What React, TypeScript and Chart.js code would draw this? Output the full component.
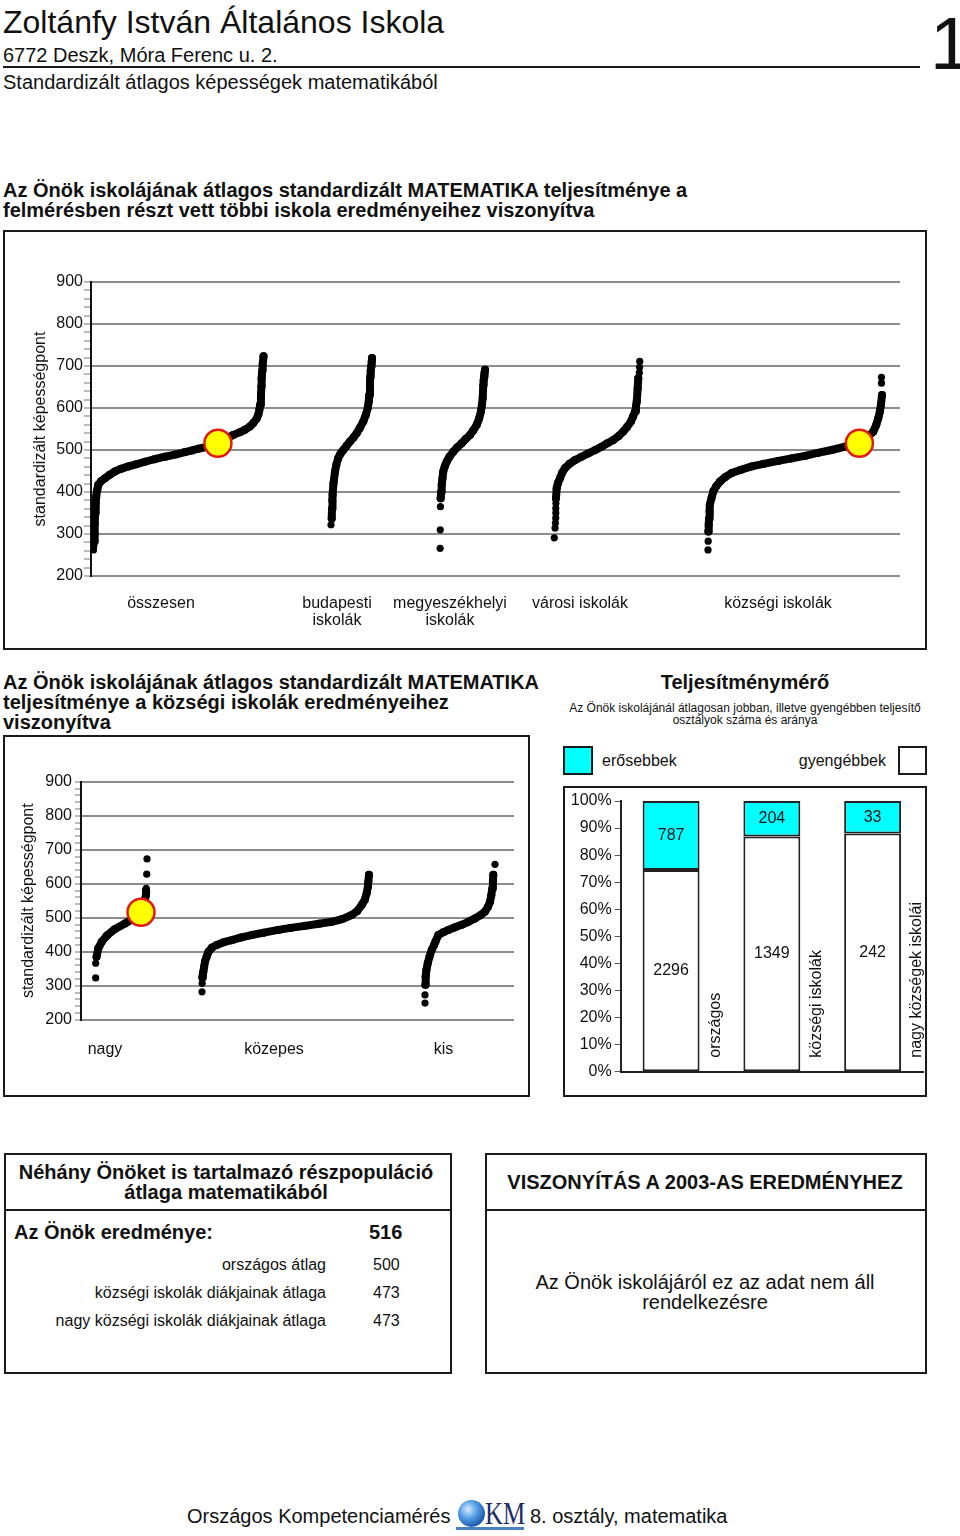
import React, { useEffect, useRef } from 'react';
import { Chart, registerables } from 'chart.js';

Chart.register(...registerables);

const FONT = '"Liberation Sans", Arial, Helvetica, sans-serif';
const INK = '#111111';
const GRID = '#8c8c8c';
Chart.defaults.font.family = FONT;

type Pair = [number, number]; // [rank within group (%), standardized score]

// ---------------- Chart 1: all schools ----------------
const groupLabels1: (string | string[])[] = [
  'összesen',
  ['budapesti', 'iskolák'],
  ['megyeszékhelyi', 'iskolák'],
  'városi iskolák',
  'községi iskolák',
];

const osszesenCurve: Pair[] = [
  [0.5, 282], [0.6, 300], [0.8, 325], [1.0, 350], [1.3, 372], [1.6, 390], [2.2, 405], [2.8, 417],
  [4.5, 426], [6.8, 433], [9.5, 441], [12.6, 449], [16, 455], [20.5, 461], [25, 466], [30.3, 472],
  [36, 478], [42, 484], [48, 489], [53.8, 495], [58, 499], [61.6, 503], [67.6, 508], [73.2, 516],
  [78, 527], [82.2, 536], [86, 542], [89, 548], [92, 556], [94, 564], [96, 575], [97, 585],
  [97.6, 596], [98, 608], [98.5, 631], [98.8, 652], [98.9, 671], [99.3, 690], [99.5, 703], [100, 723],
];
const osszesenDots: Pair[] = [[0, 262], [0.2, 272]];

const budapestiCurve: Pair[] = [
  [1.7, 337], [2.5, 360], [3.2, 380], [4.1, 393], [6, 420], [9.8, 449], [13, 465], [17.8, 481],
  [23, 491], [30, 500], [38, 510], [46.3, 520], [55, 530], [62.7, 540], [70, 552], [78.8, 568],
  [85, 584], [89.5, 600], [92, 615], [93.4, 631], [95.1, 663], [96, 675], [96.8, 687], [98, 700],
  [99.3, 710], [100, 719],
];
const budapestiDots: Pair[] = [[0, 322]];

const megyeCurve: Pair[] = [
  [1.5, 385], [2.5, 400], [3.8, 417], [5.5, 433], [7.3, 449], [10.5, 461], [14.9, 472], [21, 484],
  [29.6, 496], [38, 506], [48.2, 516], [57, 526], [66.7, 536], [74, 547], [81.6, 560], [87, 575],
  [91.1, 592], [93.2, 608], [94.9, 624], [96.2, 655], [97, 665], [97.8, 675], [99, 684], [100, 691],
];
const megyeDots: Pair[] = [[0.3, 266], [0.6, 310], [1, 365]];

const varosiCurve: Pair[] = [
  [2.3, 385], [3.1, 409], [4.5, 421], [7, 433], [9.5, 446], [12.8, 457], [18, 467], [24.4, 476],
  [32, 484], [39.9, 492], [48, 500], [55.5, 508], [62, 516], [69, 524], [75, 533], [80.6, 544],
  [85, 555], [89.5, 568], [92, 580], [94.2, 592], [95.3, 604], [96.2, 615], [97.3, 647], [98, 671],
];
const varosiDots: Pair[] = [
  [0.3, 291], [1.2, 314], [1.6, 326], [2, 338], [2.1, 350], [2.1, 361], [2.2, 373],
  [99.2, 684], [99.5, 697], [99.7, 711],
];

const kozsegiCurve: Pair[] = [
  [0.2, 306], [0.4, 322], [0.6, 337], [0.85, 353], [1.1, 369], [2, 385], [3, 401], [4.8, 414],
  [6.9, 425], [10, 436], [13.6, 445], [19, 453], [25.1, 461], [32, 467], [40.4, 474], [48, 480],
  [55.7, 486], [63, 493], [71.1, 500], [78.7, 508], [83, 512], [87, 518], [91, 528], [95, 544],
  [96.7, 560], [97.9, 576], [98.8, 592], [99.4, 608], [100, 631],
];
const kozsegiDots: Pair[] = [[0, 262], [0.1, 283], [99.7, 659], [99.7, 673]];

// ---------------- Chart 2: village schools ----------------
const groupLabels2: string[] = ['nagy', 'közepes', 'kis'];

const nagyCurve: Pair[] = [
  [3, 385], [6.4, 410], [12.9, 429], [22.5, 447], [38.5, 467], [57.7, 483], [70, 494], [80, 505],
  [88.5, 516], [93, 535], [96, 552], [98, 567], [98.2, 575], [98.2, 581],
];
const nagyDots: Pair[] = [[1.3, 323], [1.3, 366], [98.5, 586], [99.5, 628], [100, 673]];

const kozepesCurve: Pair[] = [
  [0.2, 324], [0.5, 333], [0.8, 341], [1.3, 356], [1.8, 371], [2.8, 386], [3.9, 400], [6, 412],
  [8.8, 420], [13, 428], [17.8, 434], [23.5, 442], [29.8, 449], [37, 456], [45.7, 464], [53, 470],
  [61.7, 476], [70, 482], [77.7, 488], [84, 496], [89.6, 508], [93, 520], [95.6, 537], [97.5, 553],
  [98.6, 572], [99.3, 590], [99.6, 606], [100, 626],
];
const kozepesDots: Pair[] = [[0, 282], [0.1, 307]];

const kisCurve: Pair[] = [
  [0.5, 303], [1, 328], [2, 346], [3.9, 366], [6.5, 386], [9.6, 405], [13, 420], [15, 430],
  [19, 449], [26, 457], [33.3, 464], [42, 471], [52.4, 479], [62, 488], [71.4, 498], [79, 507],
  [85.7, 518], [90, 532], [92.9, 547], [94.7, 566], [96.1, 586], [97, 606], [97.6, 626],
];
const kisDots: Pair[] = [[0, 249], [0, 273], [100, 657]];

// the school's own result and its rank inside the groups where it belongs
const schoolScore = 516;
const schoolRanks1: (number | null)[] = [73.2, null, null, null, 87];
const schoolRanks2: (number | null)[] = [88.5, null, null];

// ---------------- Teljesítménymérő ----------------
const meterCategories = ['országos', 'községi iskolák', 'nagy községek iskolái'];
const strongerCounts = [787, 204, 33];
const weakerCounts = [2296, 1349, 242];
const meterTicks = [0, 10, 20, 30, 40, 50, 60, 70, 80, 90, 100];

// ---------------- layout (positions of the group slots on the x scale) ----------------
type Slot = { start: number; width: number };
const slots1: Slot[] = [
  { start: 2.5, width: 170 }, { start: 240, width: 41 }, { start: 349, width: 45 },
  { start: 463, width: 86 }, { start: 617, width: 174 },
];
const labelPos1 = [70, 246, 359, 489, 687];
const slots2: Slot[] = [{ start: 14, width: 52 }, { start: 121, width: 167 }, { start: 344, width: 70 }];
const labelPos2 = [24, 193, 362.5];

const place = (pairs: Pair[], s: Slot) => pairs.map(([r, v]) => ({ x: s.start + (r / 100) * s.width, y: v }));

type ScoreOpts = {
  curves: Pair[][];
  dots: Pair[][];
  slots: Slot[];
  ranks: (number | null)[];
  labels: (string | string[])[];
  labelPos: number[];
  xMax: number;
  yWidth: number;
  xHeight: number;
  padTop: number;
  padRight: number;
  titlePad: number;
  tickLen: number;
  tickPad: number;
  labelPad: number;
};

function scoreConfig(o: ScoreOpts): any {
  const datasets: any[] = [];
  const schoolPts: { x: number; y: number }[] = [];
  o.ranks.forEach((r, i) => {
    if (r != null) schoolPts.push({ x: o.slots[i].start + (r / 100) * o.slots[i].width, y: schoolScore });
  });
  datasets.push({
    data: schoolPts,
    showLine: false,
    pointRadius: 13.5,
    pointBackgroundColor: '#ffff00',
    pointBorderColor: '#e3180f',
    pointBorderWidth: 2.5,
  });
  o.curves.forEach((c, i) => {
    datasets.push({
      data: place(c, o.slots[i]),
      showLine: true,
      borderColor: '#000',
      borderWidth: 8,
      borderCapStyle: 'round',
      borderJoinStyle: 'round',
      tension: 0,
      pointRadius: 4,
      pointBackgroundColor: '#000',
      pointBorderWidth: 0,
    });
    datasets.push({
      data: place(o.dots[i], o.slots[i]),
      showLine: false,
      pointRadius: 3.6,
      pointBackgroundColor: '#000',
      pointBorderWidth: 0,
    });
  });
  return {
    type: 'scatter',
    data: { datasets },
    options: {
      responsive: false,
      animation: false,
      devicePixelRatio: 1,
      events: [],
      layout: { padding: { top: o.padTop, right: o.padRight, left: 0, bottom: 0 }, autoPadding: false },
      plugins: { legend: { display: false }, tooltip: { enabled: false } },
      scales: {
        x: {
          type: 'linear',
          min: 0,
          max: o.xMax,
          grid: { display: false, drawTicks: false },
          border: { display: false },
          afterBuildTicks: (s: any) => {
            s.ticks = o.labelPos.map((v) => ({ value: v }));
          },
          ticks: {
            autoSkip: false,
            maxRotation: 0,
            minRotation: 0,
            padding: o.labelPad,
            color: INK,
            font: { size: 16, family: FONT, lineHeight: 1.05 },
            callback: (_v: any, i: number) => o.labels[i],
          },
          afterFit: (s: any) => {
            s.height = o.xHeight;
          },
        },
        y: {
          type: 'linear',
          min: 200,
          max: 900,
          ticks: {
            stepSize: 20,
            autoSkip: false,
            padding: o.tickPad,
            color: INK,
            font: { size: 16, family: FONT },
            callback: (v: any) => (Number(v) % 100 === 0 ? String(v) : ''),
          },
          grid: {
            color: (ctx: any) => (ctx.tick && ctx.tick.value % 100 === 0 ? GRID : 'rgba(0,0,0,0)'),
            lineWidth: 2,
            tickColor: '#777',
            tickLength: o.tickLen,
            tickWidth: 1,
          },
          border: { display: true, color: '#111', width: 2 },
          title: {
            display: true,
            text: 'standardizált képességpont',
            color: INK,
            font: { size: 16, family: FONT },
            padding: { top: o.titlePad, bottom: 0 },
          },
          afterFit: (s: any) => {
            s.width = o.yWidth;
          },
        },
      },
    },
  };
}

const meterLabels = {
  id: 'meterLabels',
  afterDatasetsDraw(chart: any) {
    const ctx = chart.ctx as CanvasRenderingContext2D;
    ctx.save();
    ctx.font = `16px ${FONT}`;
    ctx.fillStyle = INK;
    ctx.textAlign = 'center';
    ctx.textBaseline = 'middle';
    chart.data.datasets.forEach((ds: any, di: number) => {
      const meta = chart.getDatasetMeta(di);
      meta.data.forEach((bar: any, i: number) => {
        const { x, y, base } = bar.getProps(['x', 'y', 'base'], true);
        ctx.fillText(String(ds.counts[i]), x, (y + base) / 2);
      });
    });
    const meta0 = chart.getDatasetMeta(0);
    meta0.data.forEach((bar: any, i: number) => {
      const { x, width } = bar.getProps(['x', 'width'], true);
      ctx.save();
      ctx.translate(x + width / 2 + 16, chart.chartArea.bottom - 14);
      ctx.rotate(-Math.PI / 2);
      ctx.textAlign = 'left';
      ctx.fillText(meterCategories[i], 0, 0);
      ctx.restore();
    });
    ctx.restore();
  },
};

function meterConfig(): any {
  const totals = weakerCounts.map((w, i) => w + strongerCounts[i]);
  return {
    type: 'bar',
    data: {
      labels: meterCategories,
      datasets: [
        {
          label: 'gyengébbek',
          counts: weakerCounts,
          data: weakerCounts.map((w, i) => (w / totals[i]) * 100),
          backgroundColor: '#ffffff',
          borderColor: '#222',
          borderWidth: 2,
          borderSkipped: false,
          barPercentage: 0.565,
          categoryPercentage: 1,
        },
        {
          label: 'erősebbek',
          counts: strongerCounts,
          data: strongerCounts.map((s, i) => (s / totals[i]) * 100),
          backgroundColor: '#00ffff',
          borderColor: '#222',
          borderWidth: 2,
          borderSkipped: false,
          barPercentage: 0.565,
          categoryPercentage: 1,
        },
      ],
    },
    options: {
      responsive: false,
      animation: false,
      devicePixelRatio: 1,
      events: [],
      layout: { padding: { top: 13, right: 2, left: 0, bottom: 0 }, autoPadding: false },
      plugins: { legend: { display: false }, tooltip: { enabled: false } },
      scales: {
        x: {
          stacked: true,
          ticks: { display: false },
          grid: { display: false },
          border: { display: true, color: '#222', width: 2 },
          afterFit: (s: any) => {
            s.height = 23.3;
          },
        },
        y: {
          stacked: true,
          min: 0,
          max: 100,
          afterBuildTicks: (s: any) => {
            s.ticks = meterTicks.map((v) => ({ value: v }));
          },
          ticks: {
            autoSkip: false,
            padding: 3,
            color: INK,
            font: { size: 16, family: FONT },
            callback: (v: any) => `${v}%`,
          },
          grid: { drawOnChartArea: false, tickLength: 6, color: '#555', tickColor: '#555' },
          border: { display: true, color: '#222', width: 2 },
          afterFit: (s: any) => {
            s.width = 55.7;
          },
        },
      },
    },
    plugins: [meterLabels],
  };
}

function ChartCanvas({ x, y, w, h, make }: { x: number; y: number; w: number; h: number; make: () => any }) {
  const ref = useRef<HTMLCanvasElement>(null);
  useEffect(() => {
    const chart = new Chart(ref.current as HTMLCanvasElement, make());
    return () => chart.destroy();
  }, []);
  return (
    <canvas
      ref={ref}
      width={w}
      height={h}
      style={{ position: 'absolute', left: x, top: y, width: w, height: h, display: 'block' }}
    />
  );
}

function T({
  x, y, size, bold, align = 'left', children, color = INK,
}: { x: number; y: number; size: number; bold?: boolean; align?: 'left' | 'center' | 'right'; children: React.ReactNode; color?: string }) {
  const lh = Math.round(size * 1.2);
  const style: React.CSSProperties = {
    position: 'absolute',
    top: y - lh / 2,
    height: lh,
    lineHeight: `${lh}px`,
    fontSize: size,
    fontWeight: bold ? 700 : 400,
    whiteSpace: 'nowrap',
    color,
  };
  if (align === 'left') style.left = x;
  else if (align === 'right') style.right = 960 - x;
  else {
    style.left = x - 400;
    style.width = 800;
    style.textAlign = 'center';
  }
  return <div style={style}>{children}</div>;
}

function Box({ x, y, w, h }: { x: number; y: number; w: number; h: number }) {
  return (
    <div
      style={{
        position: 'absolute', left: x, top: y, width: w, height: h,
        border: '2px solid #1a1a1a', boxSizing: 'border-box',
      }}
    />
  );
}

function HLine({ x, y, w }: { x: number; y: number; w: number }) {
  return <div style={{ position: 'absolute', left: x, top: y, width: w, height: 2, background: '#1a1a1a' }} />;
}

export default function App() {
  const chart1 = () =>
    scoreConfig({
      curves: [osszesenCurve, budapestiCurve, megyeCurve, varosiCurve, kozsegiCurve],
      dots: [osszesenDots, budapestiDots, megyeDots, varosiDots, kozsegiDots],
      slots: slots1,
      ranks: schoolRanks1,
      labels: groupLabels1,
      labelPos: labelPos1,
      xMax: 809,
      yWidth: 86,
      xHeight: 72,
      padTop: 50,
      padRight: 25,
      titlePad: 26,
      tickLen: 7,
      tickPad: 1,
      labelPad: 19.6,
    });
  const chart2 = () =>
    scoreConfig({
      curves: [nagyCurve, kozepesCurve, kisCurve],
      dots: [nagyDots, kozepesDots, kisDots],
      slots: slots2,
      ranks: schoolRanks2,
      labels: groupLabels2,
      labelPos: labelPos2,
      xMax: 433,
      yWidth: 76,
      xHeight: 75.3,
      padTop: 44.7,
      padRight: 14,
      titlePad: 14.4,
      tickLen: 6,
      tickPad: 3,
      labelPad: 21.9,
    });

  return (
    <div
      style={{
        position: 'absolute', left: 0, top: 0, width: 960, height: 1536,
        background: '#fff', fontFamily: FONT, color: INK, overflow: 'hidden',
      }}
    >
      {/* header */}
      <T x={3} y={22} size={32}>Zoltánfy István Általános Iskola</T>
      <T x={3} y={55} size={20}>6772 Deszk, Móra Ferenc u. 2.</T>
      <HLine x={3} y={66} w={917} />
      <T x={3} y={82} size={20}>Standardizált átlagos képességek matematikából</T>
      <div
        style={{
          position: 'absolute', left: 930, top: 7, fontSize: 74, lineHeight: '74px', height: 74,
          color: INK, whiteSpace: 'nowrap',
        }}
      >
        1
      </div>

      {/* section 1 */}
      <T x={3} y={190} size={20} bold>Az Önök iskolájának átlagos standardizált MATEMATIKA teljesítménye a</T>
      <T x={3} y={210} size={20} bold>felmérésben részt vett többi iskola eredményeihez viszonyítva</T>
      <Box x={3} y={230} w={924} h={420} />
      <ChartCanvas x={5} y={232} w={920} h={416} make={chart1} />

      {/* section 2 left */}
      <T x={3} y={682} size={20} bold>Az Önök iskolájának átlagos standardizált MATEMATIKA</T>
      <T x={3} y={702} size={20} bold>teljesítménye a községi iskolák eredményeihez</T>
      <T x={3} y={722} size={20} bold>viszonyítva</T>
      <Box x={3} y={735} w={527} h={362} />
      <ChartCanvas x={5} y={737} w={523} h={358} make={chart2} />

      {/* section 2 right: Teljesítménymérő */}
      <T x={745} y={682} size={20} bold align="center">Teljesítménymérő</T>
      <T x={745} y={708} size={12} align="center">Az Önök iskolájánál átlagosan jobban, illetve gyengébben teljesítő</T>
      <T x={745} y={720} size={12} align="center">osztályok száma és aránya</T>
      <div
        style={{
          position: 'absolute', left: 563, top: 746, width: 30, height: 29, background: '#00ffff',
          border: '2px solid #1a1a1a', boxSizing: 'border-box',
        }}
      />
      <T x={602} y={760} size={16}>erősebbek</T>
      <T x={886} y={760} size={16} align="right">gyengébbek</T>
      <div
        style={{
          position: 'absolute', left: 898, top: 746, width: 29, height: 29, background: '#fff',
          border: '2px solid #1a1a1a', boxSizing: 'border-box',
        }}
      />
      <Box x={563} y={786} w={364} h={311} />
      <ChartCanvas x={565} y={788} w={360} h={307} make={meterConfig} />

      {/* bottom left box */}
      <Box x={4} y={1153} w={448} h={221} />
      <HLine x={4} y={1209} w={448} />
      <T x={226} y={1172} size={20} bold align="center">Néhány Önöket is tartalmazó részpopuláció</T>
      <T x={226} y={1192} size={20} bold align="center">átlaga matematikából</T>
      <T x={14} y={1232} size={20} bold>Az Önök eredménye:</T>
      <T x={369} y={1232} size={20} bold>516</T>
      <T x={326} y={1264} size={16} align="right">országos átlag</T>
      <T x={373} y={1264} size={16}>500</T>
      <T x={326} y={1292} size={16} align="right">községi iskolák diákjainak átlaga</T>
      <T x={373} y={1292} size={16}>473</T>
      <T x={326} y={1320} size={16} align="right">nagy községi iskolák diákjainak átlaga</T>
      <T x={373} y={1320} size={16}>473</T>

      {/* bottom right box */}
      <Box x={485} y={1153} w={442} h={221} />
      <HLine x={485} y={1209} w={442} />
      <T x={705} y={1182} size={20} bold align="center">VISZONYÍTÁS A 2003-AS EREDMÉNYHEZ</T>
      <T x={705} y={1282} size={20} align="center">Az Önök iskolájáról ez az adat nem áll</T>
      <T x={705} y={1302} size={20} align="center">rendelkezésre</T>

      {/* footer */}
      <T x={187} y={1516} size={20}>Országos Kompetenciamérés</T>
      <div
        style={{
          position: 'absolute', left: 458, top: 1500, width: 27, height: 27, borderRadius: '50%',
          background: 'radial-gradient(circle at 38% 35%, #d8ecff 0%, #5aa3e6 35%, #1f5fb0 70%, #0d2f70 100%)',
        }}
      />
      <div
        style={{
          position: 'absolute', left: 485, top: 1497, fontFamily: '"Liberation Serif", "DejaVu Serif", serif',
          fontSize: 32, lineHeight: '32px', color: '#1d2c6a', whiteSpace: 'nowrap',
          transform: 'scaleX(0.78)', transformOrigin: 'left center',
        }}
      >
        KM
      </div>
      <div style={{ position: 'absolute', left: 456, top: 1527, width: 68, height: 3, background: '#4a7fc0' }} />
      <T x={530} y={1516} size={20}>8. osztály, matematika</T>
    </div>
  );
}
